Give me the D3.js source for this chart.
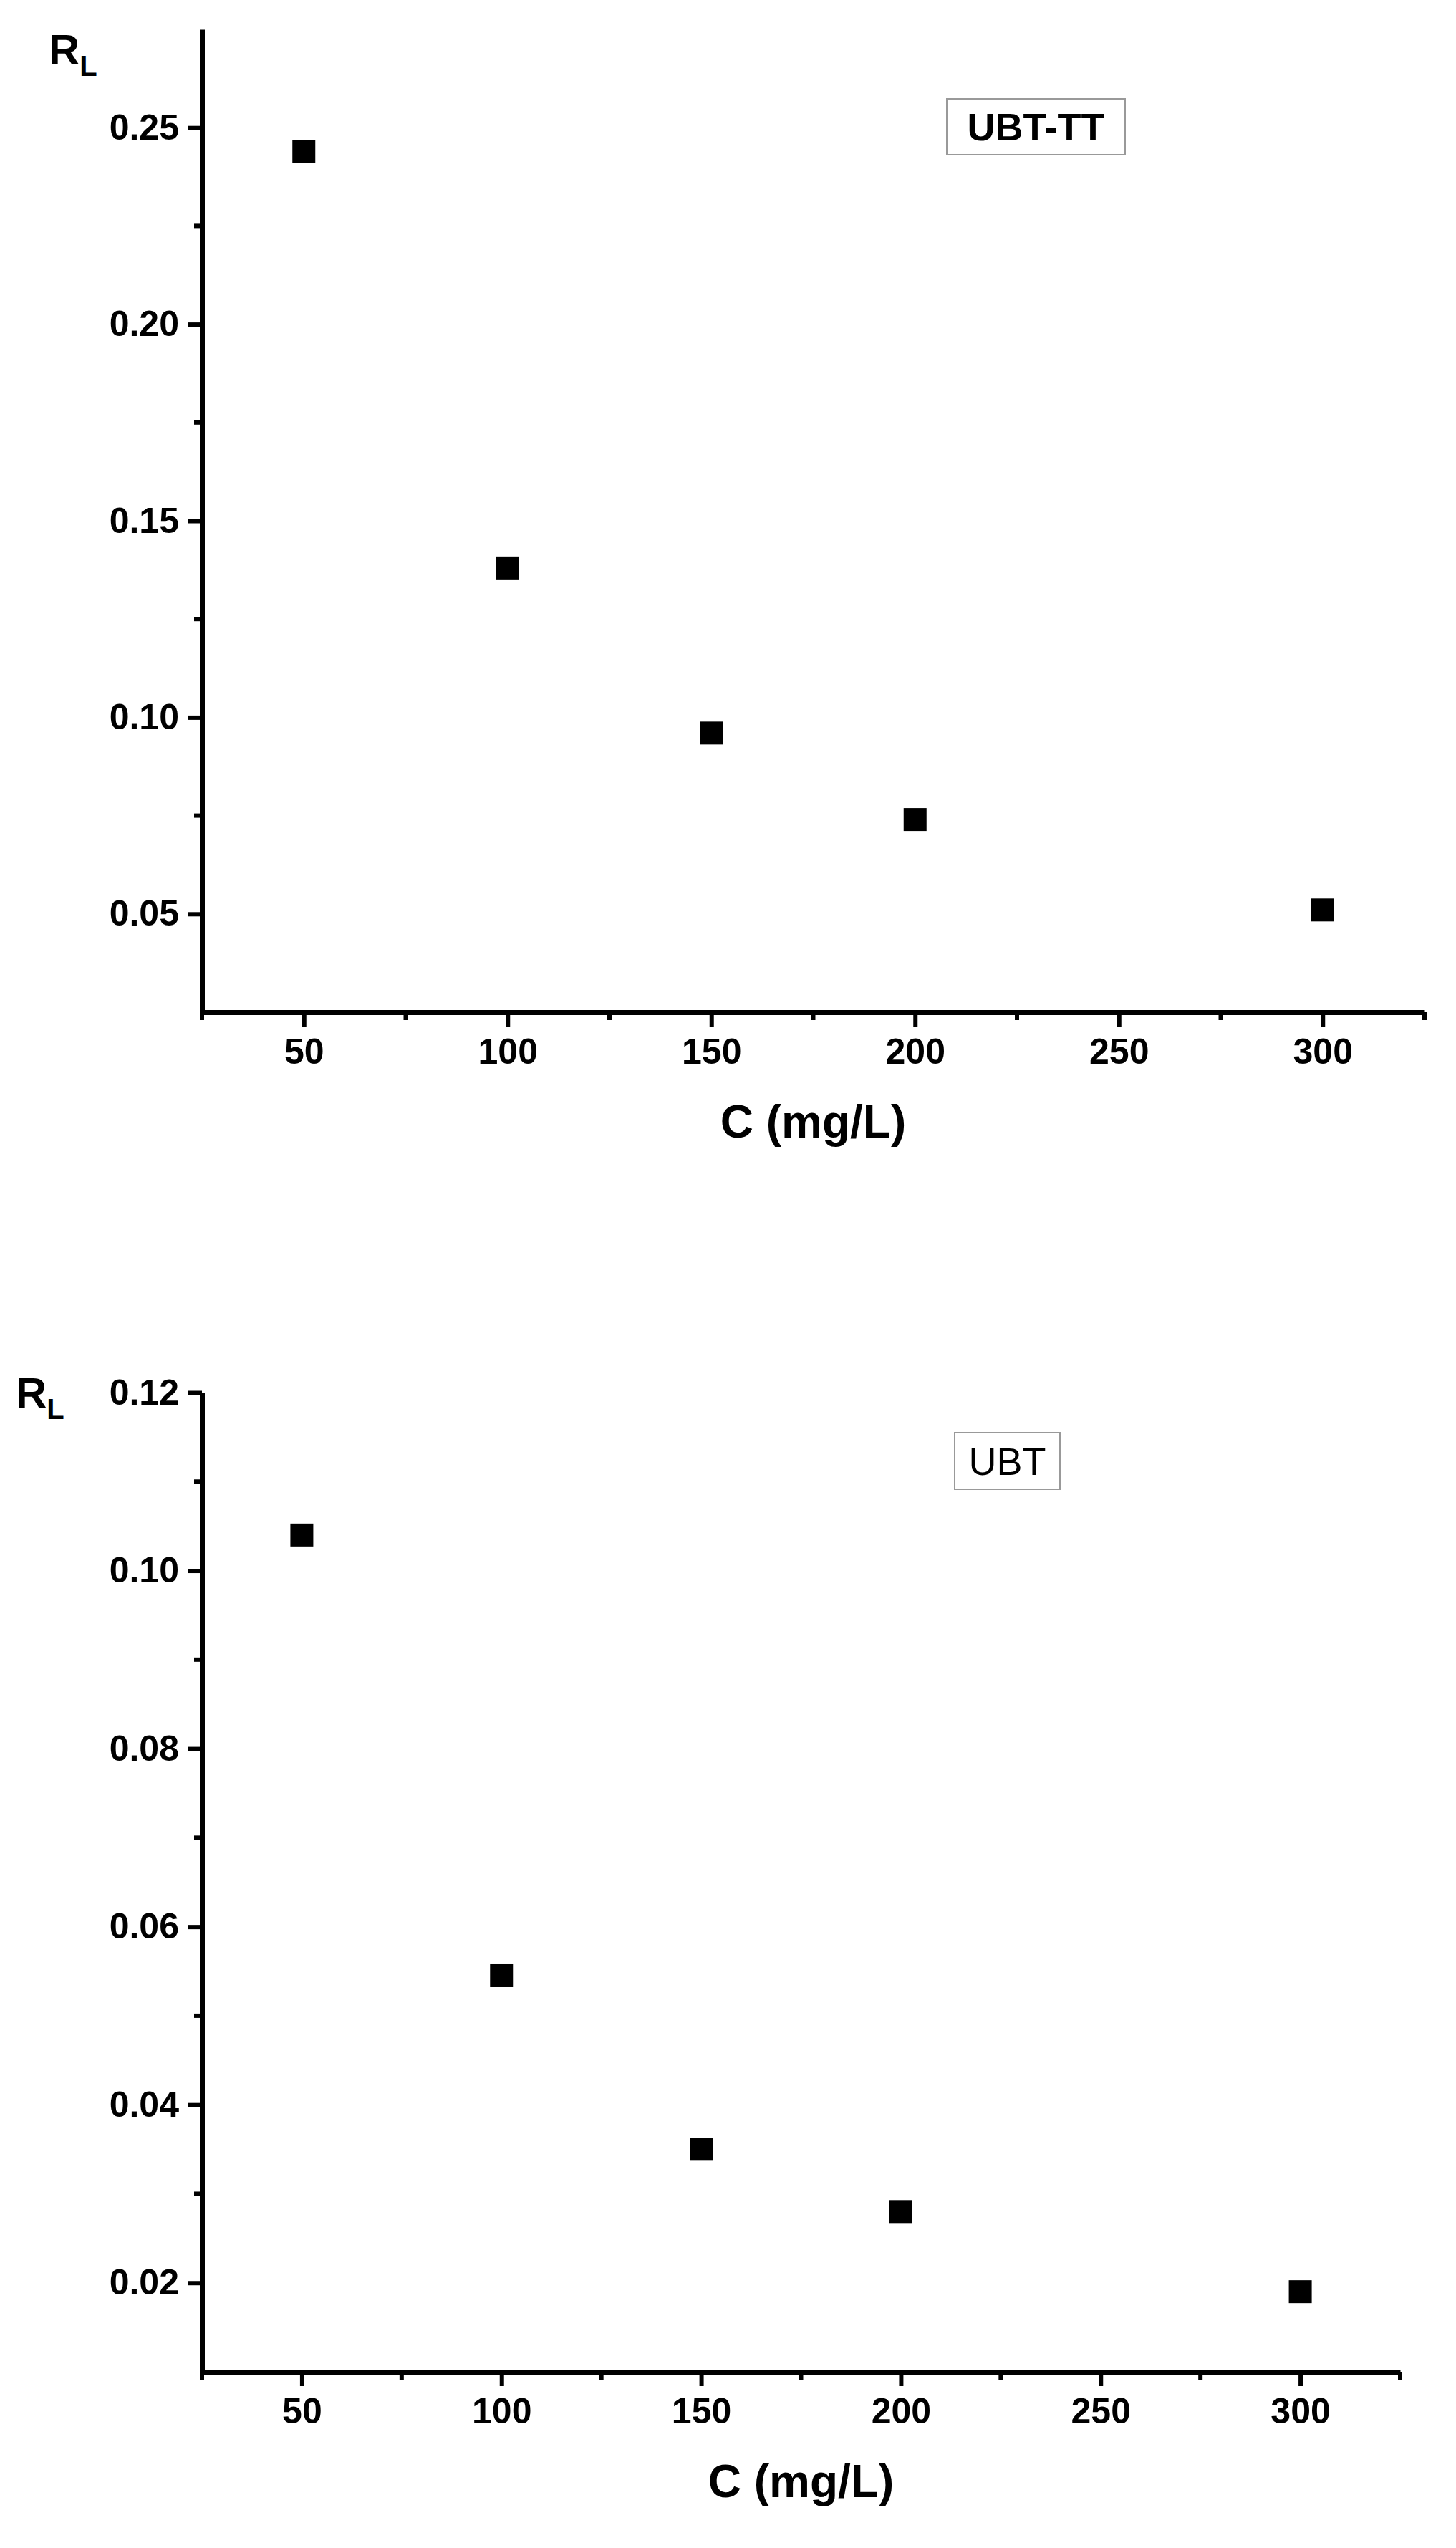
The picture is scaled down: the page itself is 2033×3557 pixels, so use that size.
<!DOCTYPE html>
<html><head><meta charset="utf-8">
<script src="https://cdn.jsdelivr.net/npm/d3@7"></script>
<style>body{margin:0;background:#fff}</style></head>
<body><svg id="c" width="2033" height="3557"></svg>
<script>
const concentrations = [50, 100, 150, 200, 300];
const rlUBTTT = [0.244, 0.138, 0.096, 0.074, 0.051];
const rlUBT = [0.104, 0.0545, 0.035, 0.028, 0.019];
const xTicks = [50, 100, 150, 200, 250, 300];
const yTicksTop = [0.05, 0.10, 0.15, 0.20, 0.25];
const yTicksBottom = [0.02, 0.04, 0.06, 0.08, 0.10, 0.12];

const svg = d3.select("#c");
const font = "Arial, 'Liberation Sans', sans-serif";

function panel(o) {
  const x = d3.scaleLinear().domain([25, 325]).range([o.left, o.right]);
  const y = d3.scaleLinear().domain(o.ydom).range([o.bottom, o.top]);
  const g = svg.append("g");
  const xMinor = d3.range(25, 326, 25).filter(v => !xTicks.includes(v));
  g.selectAll(".xm").data(xMinor).join("line")
    .attr("x1", d => x(d)).attr("x2", d => x(d)).attr("y1", o.bottom).attr("y2", o.bottom + 11)
    .attr("stroke", "#000").attr("stroke-width", 6);
  g.selectAll(".ym").data(o.yMinor).join("line")
    .attr("y1", d => y(d)).attr("y2", d => y(d)).attr("x1", o.left).attr("x2", o.left - 11)
    .attr("stroke", "#000").attr("stroke-width", 6);
  const xa = g.append("g").attr("transform", `translate(0,${o.bottom})`)
    .call(d3.axisBottom(x).tickValues(xTicks).tickSize(20).tickSizeOuter(0).tickPadding(16));
  const ya = g.append("g").attr("transform", `translate(${o.left},0)`)
    .call(d3.axisLeft(y).tickValues(o.yTicks).tickSize(20).tickSizeOuter(0).tickPadding(12).tickFormat(d3.format(o.fmt)));
  [xa, ya].forEach(a => {
    a.select(".domain").attr("stroke-width", 7);
    a.selectAll(".tick line").attr("stroke-width", 6);
    a.selectAll("text").attr("font-family", font).attr("font-size", 50).attr("font-weight", "bold").attr("fill", "#000");
  });
  g.selectAll(".pt").data(concentrations).join("rect")
    .attr("x", (d) => x(d) - 16).attr("y", (d, i) => y(o.vals[i]) - 16)
    .attr("width", 32).attr("height", 32).attr("fill", "#000");
  g.append("text").attr("x", (o.left + o.right) / 2).attr("y", o.bottom + 175)
    .attr("text-anchor", "middle").attr("font-family", font).attr("font-size", 64).attr("font-weight", "bold")
    .text("C (mg/L)");
  const rl = g.append("text").attr("x", o.rlx).attr("y", o.rly).attr("font-family", font)
    .attr("font-size", 60).attr("font-weight", "bold");
  rl.append("tspan").text("R");
  rl.append("tspan").attr("font-size", 40).attr("dy", 16).text("L");
  g.append("rect").attr("x", o.box[0]).attr("y", o.box[1]).attr("width", o.box[2]).attr("height", o.box[3])
    .attr("fill", "none").attr("stroke", "#999").attr("stroke-width", 2);
  g.append("text").attr("x", o.box[0] + o.box[2] / 2).attr("y", o.box[1] + o.box[3] / 2 + 19)
    .attr("text-anchor", "middle").attr("font-family", font).attr("font-size", 54)
    .attr("font-weight", o.bold ? "bold" : "normal").text(o.label);
}

panel({left: 282, right: 1989, top: 41, bottom: 1413, ydom: [0.025, 0.275],
  yTicks: yTicksTop, yMinor: [0.075, 0.125, 0.175, 0.225], fmt: ".2f", vals: rlUBTTT,
  rlx: 68, rly: 90, box: [1322, 138, 249, 78], label: "UBT-TT", bold: true});
panel({left: 282, right: 1955, top: 1944, bottom: 3311, ydom: [0.01, 0.12],
  yTicks: yTicksBottom, yMinor: [0.03, 0.05, 0.07, 0.09, 0.11], fmt: ".2f", vals: rlUBT,
  rlx: 22, rly: 1965, box: [1333, 2000, 147, 79], label: "UBT", bold: false});
</script></body></html>
